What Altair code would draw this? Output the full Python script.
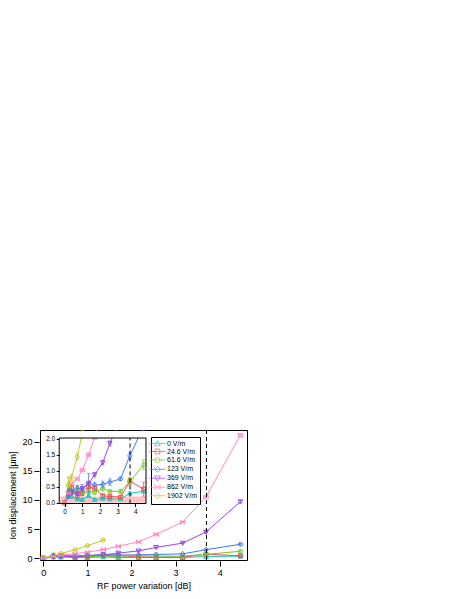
import altair as alt
import pandas as pd

# ---------------- data ----------------
X_VALUES = [0, 0.23, 0.4, 0.72, 1.0, 1.36, 1.7, 2.16, 2.56, 3.16, 3.69, 4.47]
SERIES = ["0 V/m", "24.6 V/m", "61.6 V/m", "123 V/m", "369 V/m", "862 V/m", "1902 V/m"]
COLORS = ["#1cc6c6", "#f24a4a", "#6fcc1f", "#3f7af5", "#9a45e8", "#ff88c0", "#c8c81e"]

Y_0 = [0, 0.25, 0.2, 0.12, 0.1, 0.22, 0.1, 0.14, 0.12, 0.12, 0.3, 0.36]
Y_24 = [0, 0.3, 0.45, 0.22, 0.3, 0.5, 0.45, 0.22, 0.2, 0.18, 0.68, 0.43]
Y_61 = [0, 0.55, 0.3, 0.45, 0.32, 0.35, 0.33, 0.45, 0.36, 0.36, 0.66, 1.2]
Y_123 = [0, 0.35, 0.35, 0.45, 0.45, 0.62, 0.55, 0.58, 0.65, 0.75, 1.47, 2.4]
Y_369 = [0, 0.2, 0.3, 0.28, 0.45, 0.6, 0.88, 1.26, 1.86, 2.6, 4.5, 9.7]
Y_862 = [0, 0.3, 0.6, 0.75, 1.02, 1.5, 2.05, 2.8, 4.1, 6.2, 10.5, 21.1]
Y_1902 = [0, 0.55, 0.8, 1.45, 2.15, 3.1]

E_0 = [0, 0.05, 0.05, 0.03, 0.03, 0.05, 0.03, 0.03, 0.03, 0.03, 0.04, 0.05]
E_24 = [0, 0.1, 0.1, 0.08, 0.08, 0.1, 0.08, 0.06, 0.05, 0.05, 0.12, 0.22]
E_61 = [0, 0.25, 0.1, 0.1, 0.08, 0.1, 0.06, 0.08, 0.05, 0.05, 0.1, 0.15]
E_123 = [0, 0.1, 0.08, 0.1, 0.12, 0.3, 0.1, 0.1, 0.1, 0.05, 0.1, 0.15]
E_369 = [0, 0.05, 0.05, 0.05, 0.05, 0.08, 0.07, 0.07, 0.08, 0.1, 0.15, 0.2]
E_862 = [0, 0.05, 0.05, 0.05, 0.05, 0.06, 0.06, 0.08, 0.1, 0.15, 0.2, 0.3]
E_1902 = [0, 0.25, 0.1, 0.1, 0.1, 0.1]

DASH_X = [3.7]
BAND = [0, 0.2]
MAIN_X_DOMAIN = [-0.075, 4.62]
MAIN_Y_DOMAIN = [-0.3, 22.0]
INSET_X_DOMAIN = [-0.3, 4.6]
INSET_Y_DOMAIN = [-0.02, 2.03]
MASK_TOP = 2.24
MAIN_X_TICKS = [0, 1, 2, 3, 4]
MAIN_Y_TICKS = [0, 5, 10, 15, 20]
INSET_X_TICKS = [0, 1, 2, 3, 4]
INSET_Y_TICKS = [0, 0.5, 1.0, 1.5, 2.0]

# ---------------- build tables ----------------
ys = [Y_0, Y_24, Y_61, Y_123, Y_369, Y_862, Y_1902]
es = [E_0, E_24, E_61, E_123, E_369, E_862, E_1902]
rows = []
for name, yv, ev in zip(SERIES, ys, es):
    for xv, y, e in zip(X_VALUES, yv, ev):
        rows.append({"series": name, "x": xv, "y": y, "err": e, "lo": y - e, "hi": y + e})
df = pd.DataFrame(rows)
df_err = df[df["err"] > 0]

dash_df = pd.DataFrame({"x": DASH_X, "y1": [INSET_Y_DOMAIN[0]], "y2": [INSET_Y_DOMAIN[1]]})
frame_df = pd.DataFrame({"x1": [INSET_X_DOMAIN[0]], "x2": [INSET_X_DOMAIN[1]],
                         "y1": [INSET_Y_DOMAIN[0]], "y2": [INSET_Y_DOMAIN[1]]})
band_df = pd.DataFrame({"x1": [INSET_X_DOMAIN[0]], "x2": [INSET_X_DOMAIN[1]],
                        "y1": [BAND[0]], "y2": [BAND[1]]})
mask_df = pd.DataFrame({"x1": [INSET_X_DOMAIN[0]], "x2": [INSET_X_DOMAIN[1]],
                        "y1": [INSET_Y_DOMAIN[1]], "y2": [MASK_TOP]})

# marker shapes (style)
TRI_UP = "M0,-0.95L0.95,0.75L-0.95,0.75Z"
SQUARE = "M-0.8,-0.8L0.8,-0.8L0.8,0.8L-0.8,0.8Z"
CIRCLE = "M-0.85,0A0.85,0.85,0,1,0,0.85,0A0.85,0.85,0,1,0,-0.85,0Z"
DIAMOND = "M0,-1L1,0L0,1L-1,0Z"
TRI_DOWN = "M-0.95,-0.75L0.95,-0.75L0,0.95Z"
BOWTIE = "M-0.9,-0.8L0.9,0.8L0.9,-0.8L-0.9,0.8Z"
MARKERS = [TRI_UP, SQUARE, CIRCLE, DIAMOND, TRI_DOWN, BOWTIE, CIRCLE]
LEG_LINE = "M-2.7,0L2.7,0"
LEGEND_PATHS = [LEG_LINE + m for m in MARKERS]

FONT = "Liberation Sans"


def color_enc(legend=None):
    return alt.Color("series:N", scale=alt.Scale(domain=SERIES, range=COLORS), legend=legend)


def shape_enc(paths, legend=None):
    return alt.Shape("series:N", scale=alt.Scale(domain=SERIES, range=paths), legend=legend)


def series_layers(xs, ys_, xax, yax, size):
    def X(f):
        return alt.X(f, type="quantitative", scale=xs, axis=xax)

    def Y(f):
        return alt.Y(f, type="quantitative", scale=ys_, axis=yax)

    base = alt.Chart(df)
    ebase = alt.Chart(df_err)
    line = base.mark_line(strokeWidth=1, clip=True).encode(x=X("x"), y=Y("y"), color=color_enc())
    err = ebase.mark_rule(strokeWidth=0.8, clip=True).encode(
        x=X("x"), y=Y("lo"), y2="hi:Q", color=color_enc())
    cap_lo = ebase.mark_tick(orient="horizontal", size=4, thickness=0.8, clip=True).encode(
        x=X("x"), y=Y("lo"), color=color_enc())
    cap_hi = ebase.mark_tick(orient="horizontal", size=4, thickness=0.8, clip=True).encode(
        x=X("x"), y=Y("hi"), color=color_enc())
    pts = base.mark_point(filled=False, size=size, strokeWidth=1, opacity=1, clip=True).encode(
        x=X("x"), y=Y("y"), color=color_enc(), shape=shape_enc(MARKERS))
    return [line, err, cap_lo, cap_hi, pts], X, Y


# ---------------- main plot ----------------
mx = alt.Scale(domain=MAIN_X_DOMAIN, nice=False, zero=False)
my = alt.Scale(domain=MAIN_Y_DOMAIN, nice=False, zero=False)
ax_x = alt.Axis(orient="bottom", values=MAIN_X_TICKS, format="d", title="RF power variation [dB]",
                grid=False, domain=False, tickSize=5, labelFontSize=9, titleFontSize=9,
                titleFontWeight="normal", labelPadding=2, titlePadding=4, offset=1,
                labelFlush=False)
ax_y = alt.Axis(orient="left", values=MAIN_Y_TICKS, format="d", title="Ion displacement [µm]",
                grid=False, domain=False, tickSize=5, labelFontSize=9, titleFontSize=9,
                titleFontWeight="normal", labelPadding=2, titlePadding=4, offset=1)

main_series, MX, MY = series_layers(mx, my, ax_x, ax_y, 25)
main_dash = alt.Chart(dash_df).mark_rule(color="black", strokeDash=[4, 3], strokeWidth=1).encode(
    x=MX("x"))
main = alt.layer(*main_series, main_dash)

# ---------------- inset ----------------
ix = alt.Scale(domain=INSET_X_DOMAIN, range=[19.2, 106], nice=False, zero=False)
iy = alt.Scale(domain=INSET_Y_DOMAIN, range=[73.5, 8], nice=False, zero=False)
iax_x = alt.Axis(orient="bottom", offset=-56.5, values=INSET_X_TICKS, format="d", title=None,
                 grid=False, domain=False, tickSize=3, labelFontSize=6.5, labelPadding=1.5,
                 zindex=1, labelFlush=False)
iax_y = alt.Axis(orient="left", offset=-19.2, values=INSET_Y_TICKS, format=".1f", title=None,
                 grid=False, domain=False, tickSize=3, labelFontSize=6.5, labelPadding=1.5,
                 zindex=1)

inset_series, IX, IY = series_layers(ix, iy, iax_x, iax_y, 22)
bg = alt.Chart(frame_df).mark_rect(fill="white", strokeWidth=0).encode(
    x=IX("x1"), x2="x2:Q", y=IY("y1"), y2="y2:Q")
band = alt.Chart(band_df).mark_rect(fill="#ffc2c2", strokeWidth=0).encode(
    x=IX("x1"), x2="x2:Q", y=IY("y1"), y2="y2:Q")
inset_dash = alt.Chart(dash_df).mark_rule(color="black", strokeDash=[4, 3], strokeWidth=1).encode(
    x=IX("x"), y=IY("y1"), y2="y2:Q")
mask = alt.Chart(mask_df).mark_rect(fill="white", strokeWidth=0, clip=True).encode(
    x=IX("x1"), x2="x2:Q", y=IY("y1"), y2="y2:Q")
frame = alt.Chart(frame_df).mark_rect(fill=None, stroke="black", strokeWidth=1).encode(
    x=IX("x1"), x2="x2:Q", y=IY("y1"), y2="y2:Q")
inset = alt.layer(bg, band, *inset_series, inset_dash, mask, frame)

# ---------------- legend ----------------
leg = alt.Legend(title=None, orient="none", legendX=111, legendY=7, strokeColor="black",
                 fillColor="white", padding=3, labelFontSize=7, labelFont=FONT,
                 labelFontWeight="normal", labelColor="black", symbolSize=36,
                 symbolStrokeWidth=1, rowPadding=-1.6, labelOffset=6, labelLimit=80)
legend_layer = alt.Chart(df).transform_filter("datum.x > 100").mark_point(
    filled=False, strokeWidth=1, size=36).encode(
    color=color_enc(leg), shape=shape_enc(LEGEND_PATHS, leg))

chart = alt.layer(main, inset, legend_layer).resolve_scale(
    x="independent", y="independent", color="independent", shape="independent"
).properties(
    width=207, height=130,
    padding={"left": 32, "top": 422, "right": 10, "bottom": 45},
    autosize=alt.AutoSizeParams(type="none"),
).configure(font=FONT).configure_view(stroke="black", strokeWidth=1).configure_axis(
    labelColor="black", tickColor="black", titleColor="black", labelFont=FONT, titleFont=FONT,
    tickWidth=1
)

chart.save("out.html", embed_options={"renderer": "svg", "actions": False})
